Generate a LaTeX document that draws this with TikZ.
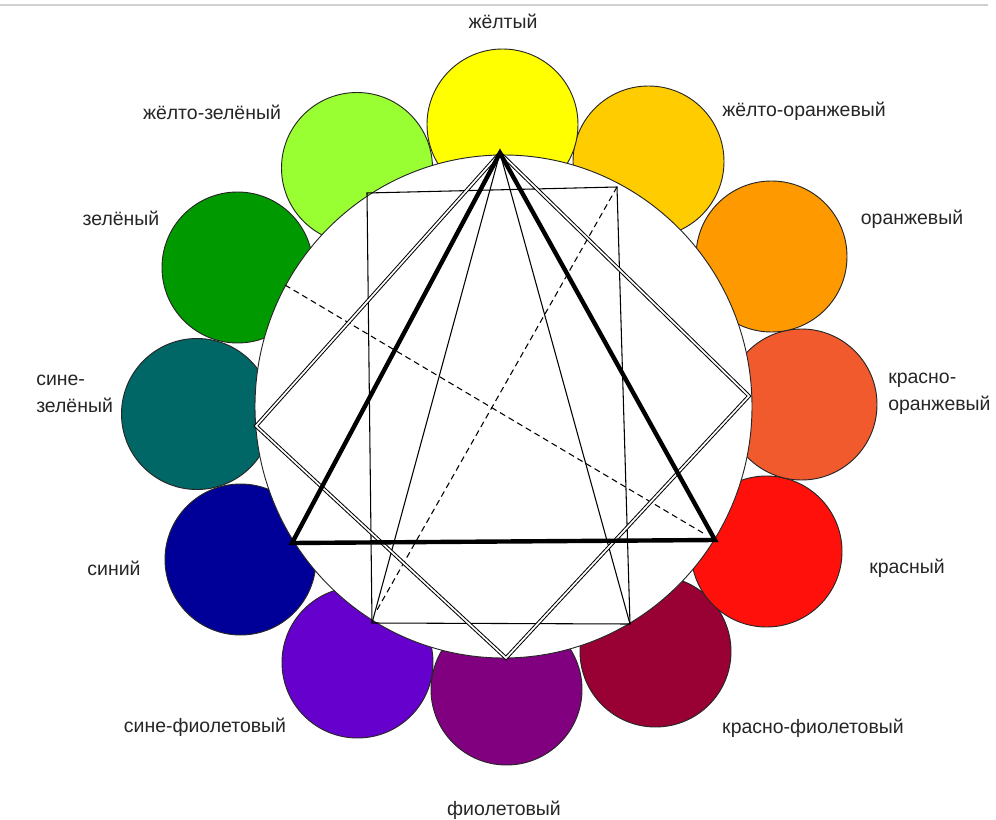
\documentclass[tikz,border=0pt]{standalone}
\usepackage{fontspec}
\setmainfont{Liberation Sans}
\definecolor{cY}{HTML}{FFFF00}
\definecolor{cYO}{HTML}{FFCC00}
\definecolor{cO}{HTML}{FF9900}
\definecolor{cRO}{HTML}{F05A2C}
\definecolor{cR}{HTML}{FF100A}
\definecolor{cRV}{HTML}{990033}
\definecolor{cV}{HTML}{800080}
\definecolor{cBV}{HTML}{6600CC}
\definecolor{cB}{HTML}{000099}
\definecolor{cBG}{HTML}{006666}
\definecolor{cG}{HTML}{009900}
\definecolor{cYG}{HTML}{99FF33}
\definecolor{rule}{HTML}{D0D0D0}
\begin{document}
\begin{tikzpicture}[x=0.75pt,y=-0.75pt,
  wheel/.style={circle, draw=black!85, line width=0.7pt, minimum size=113.25pt, inner sep=0pt},
  lbl/.style={font=\fontsize{14.6}{20}\selectfont, text=black!85, inner sep=0pt},
  thinline/.style={line width=0.8pt, black},
  thickline/.style={line width=3.3pt, black, line join=miter},
  dblline/.style={double, double distance=1.3pt, line width=0.75pt, black, line join=miter},
  dashline/.style={line width=0.8pt, black, dash pattern=on 4.5pt off 3pt}]
\useasboundingbox (0,0) rectangle (996,820);
\fill[white] (0,0) rectangle (996,820);
% top rule
\coordinate (gl) at (0,5);
\coordinate (gr) at (988,5);
\draw[rule, line width=1.5pt] (gl) -- (gr);
% colour circles
\node[wheel, fill=cYG] (YG) at (357,168) {};
\node[wheel, fill=cG]  (G)  at (237.5,267.5) {};
\node[wheel, fill=cBG] (BG) at (197,414) {};
\node[wheel, fill=cB]  (B)  at (240.5,559.5) {};
\node[wheel, fill=cBV] (BV) at (357.5,662.5) {};
\node[wheel, fill=cV]  (V)  at (506.5,689.5) {};
\node[wheel, fill=cRV] (RV) at (655.5,651.5) {};
\node[wheel, fill=cR]  (R)  at (766.5,551.5) {};
\node[wheel, fill=cRO] (RO) at (801.5,404.5) {};
\node[wheel, fill=cO]  (O)  at (771.5,256.5) {};
\node[wheel, fill=cYO] (YO) at (648.5,161.5) {};
\node[wheel, fill=cY]  (Y)  at (502.5,124.5) {};
% big white circle
\draw[fill=white, draw=black!85, line width=0.7pt] (503.5,406.5) ellipse [x radius=248.5, y radius=251.5];
% points
\coordinate (T) at (500,153);
\coordinate (TL) at (292,543);
\coordinate (TR) at (715,540);
\coordinate (SqR) at (749,396);
\coordinate (SqB) at (506,658);
\coordinate (SqL) at (256,426);
\coordinate (RTL) at (367,193);
\coordinate (RTR) at (617,187);
\coordinate (RBR) at (630,624);
\coordinate (RBL) at (372,623);
\coordinate (D1s) at (285,285);
\coordinate (D1e) at (703,533);
\coordinate (D2e) at (377,610);
% thin rectangle and narrow triangle
\draw[thinline] (RTL) -- (RTR) -- (RBR) -- (RBL) -- cycle;
\draw[thinline] (RBL) -- (T) -- (RBR);
% dashed lines
\draw[dashline] (D1s) -- (D1e);
\draw[dashline] (RTR) -- (D2e);
% double square
\draw[dblline] (T) -- (SqR) -- (SqB) -- (SqL) -- cycle;
% thick triangle
\draw[thickline] (T) -- (TR) -- (TL) -- cycle;
% labels
\node[lbl] (lY)  at (503,21) {жёлтый};
\node[lbl] (lYO) at (804,111) {жёлто-оранжевый};
\node[lbl] (lO)  at (912,219) {оранжевый};
\node[lbl, anchor=west, align=left] (lRO) at (888,394) {красно-\\оранжевый};
\node[lbl] (lR)  at (907,568) {красный};
\node[lbl] (lRV) at (813,728) {красно-фиолетовый};
\node[lbl] (lV)  at (504,810) {фиолетовый};
\node[lbl] (lBV) at (205,727) {сине-фиолетовый};
\node[lbl] (lB)  at (114,568) {синий};
\node[lbl, anchor=west, align=left] (lBG) at (36,394) {сине-\\зелёный};
\node[lbl] (lG)  at (121,218) {зелёный};
\node[lbl] (lYG) at (212,112) {жёлто-зелёный};
\end{tikzpicture}
\end{document}
